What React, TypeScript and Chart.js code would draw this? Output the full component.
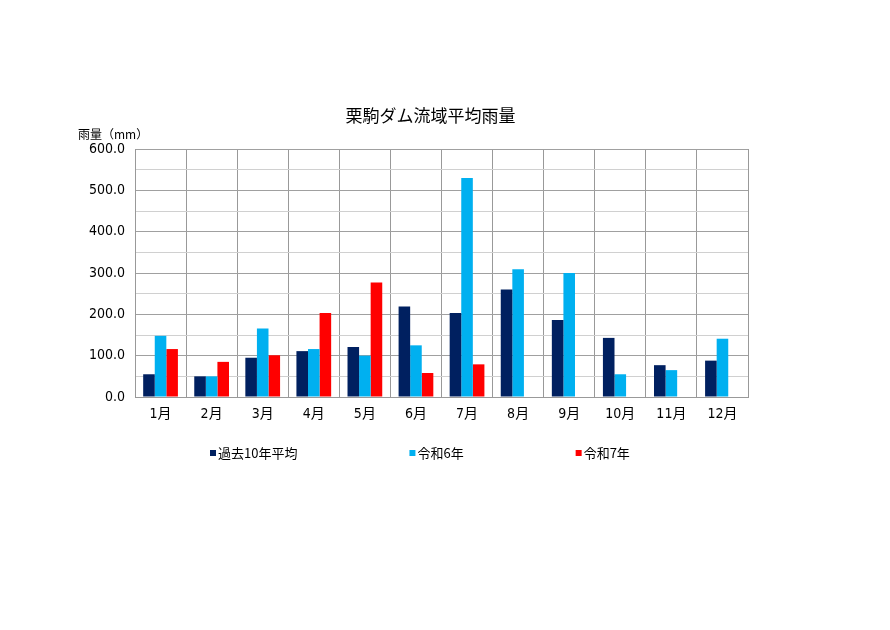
import { useEffect, useRef } from 'react'
import { Chart, registerables, type ChartConfiguration, type Plugin } from 'chart.js'

Chart.register(...registerables)

const months = ['1月', '2月', '3月', '4月', '5月', '6月', '7月', '8月', '9月', '10月', '11月', '12月']
const avg10 = [55, 50, 95, 111, 121, 219, 203, 260, 186, 143, 77, 88]
const reiwa6 = [148, 50, 166, 116, 100, 125, 530, 309, 300, 55, 65, 141]
const reiwa7 = [116, 85, 101, 203, 277, 58, 79, null, null, null, null, null]
const seriesNames = ['過去10年平均', '令和6年', '令和7年']
const seriesColors = ['#002060', '#00b0f0', '#ff0000']

const chartTitle = '栗駒ダム流域平均雨量'
const yTitle = '雨量（mm）'

const jpFont = '"Noto Sans CJK JP", "Noto Sans", sans-serif'
const numFont = '"Liberation Sans Narrow", "DejaVu Sans Condensed", "Noto Sans CJK JP", sans-serif'

// title, y-axis caption and the spread-out legend row
const decorations: Plugin<'bar'> = {
  id: 'decorations',
  afterDraw(chart) {
    const { ctx, chartArea } = chart
    ctx.save()
    ctx.fillStyle = '#000'
    ctx.textBaseline = 'middle'

    ctx.font = `17px ${jpFont}`
    ctx.textAlign = 'center'
    ctx.fillText(chartTitle, (chartArea.left + chartArea.right) / 2 - 11, 116)

    ctx.font = `12px ${jpFont}`
    ctx.textAlign = 'left'
    ctx.fillText(yTitle, chartArea.left - 57, 134)

    ctx.font = `13px ${jpFont}`
    let x = chartArea.left + 75
    const y = chartArea.bottom + 56
    chart.data.datasets.forEach((ds) => {
      ctx.fillStyle = ds.backgroundColor as string
      ctx.fillRect(x, y - 3, 6, 6)
      ctx.fillStyle = '#000'
      ctx.fillText(String(ds.label), x + 8, y)
      x += 8 + ctx.measureText(String(ds.label)).width + 112
    })
    ctx.restore()
  },
}

const App = () => {
  const canvasRef = useRef<HTMLCanvasElement | null>(null)

  useEffect(() => {
    if (!canvasRef.current) {
      return undefined
    }

    const config: ChartConfiguration<'bar'> = {
      type: 'bar',
      data: {
        labels: months,
        datasets: [avg10, reiwa6, reiwa7].map((data, i) => ({
          label: seriesNames[i],
          data,
          backgroundColor: seriesColors[i],
          borderWidth: 0,
          barPercentage: 1,
          categoryPercentage: 0.68,
        })),
      },
      options: {
        animation: false,
        maintainAspectRatio: false,
        responsive: true,
        layout: {
          padding: { left: 60, right: 142, top: 149, bottom: 203 },
        },
        scales: {
          x: {
            afterFit: (scale) => {
              scale.height = 30
            },
            grid: {
              offset: true,
              color: '#999999',
              drawTicks: false,
            },
            border: { color: '#999999' },
            ticks: {
              color: '#000',
              padding: 9,
              font: { family: numFont, size: 14 },
            },
          },
          y: {
            min: 0,
            max: 600,
            afterFit: (scale) => {
              scale.width = 75
            },
            grid: {
              drawTicks: false,
              color: (c) => (c.tick.value % 100 === 0 ? '#a0a0a0' : '#d0d0d0'),
            },
            border: { color: '#999999' },
            ticks: {
              stepSize: 50,
              color: '#000',
              padding: 10,
              font: { family: numFont, size: 14 },
              callback: (v) => (Number(v) % 100 === 0 ? Number(v).toFixed(1) : ''),
            },
          },
        },
        plugins: {
          legend: { display: false },
          title: { display: false },
          tooltip: { enabled: false },
        },
      },
      plugins: [decorations],
    }

    const chart = new Chart(canvasRef.current, config)

    return () => {
      chart.destroy()
    }
  }, [])

  return (
    <div style={{ position: 'fixed', left: 0, top: 0, width: 890, height: 630, background: '#fff' }}>
      <canvas ref={canvasRef} aria-label={chartTitle} />
    </div>
  )
}

export default App
